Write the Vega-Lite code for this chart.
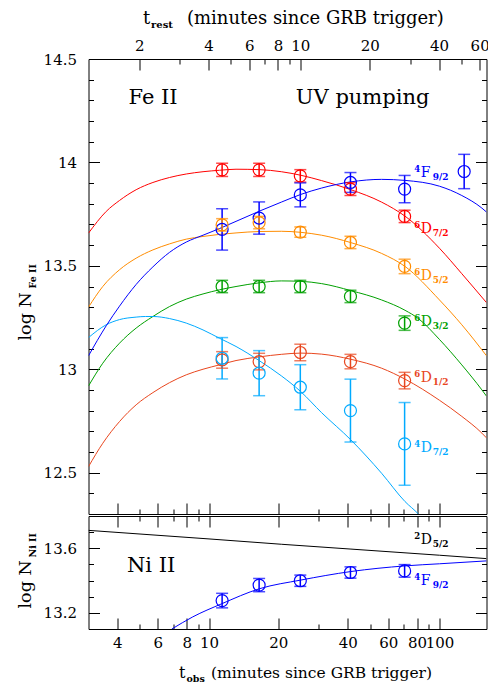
{
  "$schema": "https://vega.github.io/schema/vega-lite/v6.json",
  "padding": {"left": 15.5, "top": 8, "right": 0, "bottom": 0},
  "spacing": 0,
  "config": {
    "font": "DejaVu Serif",
    "view": {"stroke": "black", "strokeWidth": 1},
    "axis": {"domain": false, "grid": false, "labelFont": "DejaVu Serif", "labelFontSize": 15, "labelColor": "black", "tickColor": "black", "tickWidth": 1, "titleFont": "DejaVu Serif", "titleFontWeight": "normal", "titleColor": "black", "labelFlush": false, "labelOverlap": false, "labelBound": false}
  },
  "datasets": {
    "curves": [
      {"panel": "Fe", "series": "6D7/2", "t": 3.0, "v": 13.658},
      {"panel": "Fe", "series": "6D7/2", "t": 3.58, "v": 13.763},
      {"panel": "Fe", "series": "6D7/2", "t": 4.09, "v": 13.816},
      {"panel": "Fe", "series": "6D7/2", "t": 4.83, "v": 13.868},
      {"panel": "Fe", "series": "6D7/2", "t": 5.71, "v": 13.903},
      {"panel": "Fe", "series": "6D7/2", "t": 6.74, "v": 13.927},
      {"panel": "Fe", "series": "6D7/2", "t": 7.97, "v": 13.944},
      {"panel": "Fe", "series": "6D7/2", "t": 9.42, "v": 13.955},
      {"panel": "Fe", "series": "6D7/2", "t": 11.1, "v": 13.962},
      {"panel": "Fe", "series": "6D7/2", "t": 13.1, "v": 13.967},
      {"panel": "Fe", "series": "6D7/2", "t": 16.6, "v": 13.965},
      {"panel": "Fe", "series": "6D7/2", "t": 20.6, "v": 13.955},
      {"panel": "Fe", "series": "6D7/2", "t": 25.0, "v": 13.938},
      {"panel": "Fe", "series": "6D7/2", "t": 30.8, "v": 13.912},
      {"panel": "Fe", "series": "6D7/2", "t": 41.3, "v": 13.868},
      {"panel": "Fe", "series": "6D7/2", "t": 56.1, "v": 13.808},
      {"panel": "Fe", "series": "6D7/2", "t": 70.9, "v": 13.740},
      {"panel": "Fe", "series": "6D7/2", "t": 100, "v": 13.585},
      {"panel": "Fe", "series": "6D7/2", "t": 125, "v": 13.462},
      {"panel": "Fe", "series": "6D7/2", "t": 160, "v": 13.322},

      {"panel": "Fe", "series": "6D5/2", "t": 3.0, "v": 13.300},
      {"panel": "Fe", "series": "6D5/2", "t": 3.46, "v": 13.400},
      {"panel": "Fe", "series": "6D5/2", "t": 4.09, "v": 13.481},
      {"panel": "Fe", "series": "6D5/2", "t": 4.83, "v": 13.537},
      {"panel": "Fe", "series": "6D5/2", "t": 5.71, "v": 13.577},
      {"panel": "Fe", "series": "6D5/2", "t": 6.74, "v": 13.606},
      {"panel": "Fe", "series": "6D5/2", "t": 7.97, "v": 13.629},
      {"panel": "Fe", "series": "6D5/2", "t": 9.42, "v": 13.642},
      {"panel": "Fe", "series": "6D5/2", "t": 11.1, "v": 13.652},
      {"panel": "Fe", "series": "6D5/2", "t": 13.1, "v": 13.659},
      {"panel": "Fe", "series": "6D5/2", "t": 16.6, "v": 13.666},
      {"panel": "Fe", "series": "6D5/2", "t": 20.6, "v": 13.667},
      {"panel": "Fe", "series": "6D5/2", "t": 25.0, "v": 13.662},
      {"panel": "Fe", "series": "6D5/2", "t": 30.8, "v": 13.648},
      {"panel": "Fe", "series": "6D5/2", "t": 41.3, "v": 13.612},
      {"panel": "Fe", "series": "6D5/2", "t": 56.1, "v": 13.560},
      {"panel": "Fe", "series": "6D5/2", "t": 70.9, "v": 13.497},
      {"panel": "Fe", "series": "6D5/2", "t": 100, "v": 13.335},
      {"panel": "Fe", "series": "6D5/2", "t": 125, "v": 13.215},
      {"panel": "Fe", "series": "6D5/2", "t": 160, "v": 13.065},

      {"panel": "Fe", "series": "6D3/2", "t": 3.0, "v": 12.919},
      {"panel": "Fe", "series": "6D3/2", "t": 3.46, "v": 13.029},
      {"panel": "Fe", "series": "6D3/2", "t": 4.09, "v": 13.126},
      {"panel": "Fe", "series": "6D3/2", "t": 4.83, "v": 13.199},
      {"panel": "Fe", "series": "6D3/2", "t": 5.71, "v": 13.255},
      {"panel": "Fe", "series": "6D3/2", "t": 6.74, "v": 13.303},
      {"panel": "Fe", "series": "6D3/2", "t": 7.97, "v": 13.339},
      {"panel": "Fe", "series": "6D3/2", "t": 9.42, "v": 13.364},
      {"panel": "Fe", "series": "6D3/2", "t": 11.1, "v": 13.384},
      {"panel": "Fe", "series": "6D3/2", "t": 13.1, "v": 13.400},
      {"panel": "Fe", "series": "6D3/2", "t": 16.6, "v": 13.418},
      {"panel": "Fe", "series": "6D3/2", "t": 20.6, "v": 13.427},
      {"panel": "Fe", "series": "6D3/2", "t": 25.0, "v": 13.425},
      {"panel": "Fe", "series": "6D3/2", "t": 30.8, "v": 13.414},
      {"panel": "Fe", "series": "6D3/2", "t": 41.3, "v": 13.380},
      {"panel": "Fe", "series": "6D3/2", "t": 56.1, "v": 13.335},
      {"panel": "Fe", "series": "6D3/2", "t": 70.9, "v": 13.285},
      {"panel": "Fe", "series": "6D3/2", "t": 81.0, "v": 13.245},
      {"panel": "Fe", "series": "6D3/2", "t": 100, "v": 13.144},
      {"panel": "Fe", "series": "6D3/2", "t": 125, "v": 13.021},
      {"panel": "Fe", "series": "6D3/2", "t": 152.8, "v": 12.900},
      {"panel": "Fe", "series": "6D3/2", "t": 160, "v": 12.870},

      {"panel": "Fe", "series": "6D1/2", "t": 3.0, "v": 12.529},
      {"panel": "Fe", "series": "6D1/2", "t": 3.46, "v": 12.642},
      {"panel": "Fe", "series": "6D1/2", "t": 4.09, "v": 12.747},
      {"panel": "Fe", "series": "6D1/2", "t": 4.83, "v": 12.828},
      {"panel": "Fe", "series": "6D1/2", "t": 5.71, "v": 12.887},
      {"panel": "Fe", "series": "6D1/2", "t": 6.74, "v": 12.935},
      {"panel": "Fe", "series": "6D1/2", "t": 7.97, "v": 12.973},
      {"panel": "Fe", "series": "6D1/2", "t": 9.42, "v": 13.000},
      {"panel": "Fe", "series": "6D1/2", "t": 11.1, "v": 13.021},
      {"panel": "Fe", "series": "6D1/2", "t": 13.1, "v": 13.042},
      {"panel": "Fe", "series": "6D1/2", "t": 16.6, "v": 13.060},
      {"panel": "Fe", "series": "6D1/2", "t": 20.6, "v": 13.072},
      {"panel": "Fe", "series": "6D1/2", "t": 25.0, "v": 13.078},
      {"panel": "Fe", "series": "6D1/2", "t": 30.8, "v": 13.073},
      {"panel": "Fe", "series": "6D1/2", "t": 41.3, "v": 13.048},
      {"panel": "Fe", "series": "6D1/2", "t": 56.1, "v": 13.005},
      {"panel": "Fe", "series": "6D1/2", "t": 70.9, "v": 12.952},
      {"panel": "Fe", "series": "6D1/2", "t": 100, "v": 12.850},
      {"panel": "Fe", "series": "6D1/2", "t": 125, "v": 12.772},
      {"panel": "Fe", "series": "6D1/2", "t": 152.8, "v": 12.691},
      {"panel": "Fe", "series": "6D1/2", "t": 160, "v": 12.668},

      {"panel": "Fe", "series": "4D7/2", "t": 3.0, "v": 13.153},
      {"panel": "Fe", "series": "4D7/2", "t": 3.58, "v": 13.215},
      {"panel": "Fe", "series": "4D7/2", "t": 4.09, "v": 13.240},
      {"panel": "Fe", "series": "4D7/2", "t": 4.83, "v": 13.252},
      {"panel": "Fe", "series": "4D7/2", "t": 5.3, "v": 13.255},
      {"panel": "Fe", "series": "4D7/2", "t": 5.71, "v": 13.255},
      {"panel": "Fe", "series": "4D7/2", "t": 6.74, "v": 13.245},
      {"panel": "Fe", "series": "4D7/2", "t": 7.97, "v": 13.223},
      {"panel": "Fe", "series": "4D7/2", "t": 9.42, "v": 13.190},
      {"panel": "Fe", "series": "4D7/2", "t": 11.1, "v": 13.150},
      {"panel": "Fe", "series": "4D7/2", "t": 13.1, "v": 13.110},
      {"panel": "Fe", "series": "4D7/2", "t": 16.6, "v": 13.040},
      {"panel": "Fe", "series": "4D7/2", "t": 20.6, "v": 12.968},
      {"panel": "Fe", "series": "4D7/2", "t": 25.0, "v": 12.892},
      {"panel": "Fe", "series": "4D7/2", "t": 30.8, "v": 12.790},
      {"panel": "Fe", "series": "4D7/2", "t": 41.3, "v": 12.658},
      {"panel": "Fe", "series": "4D7/2", "t": 56.1, "v": 12.497},
      {"panel": "Fe", "series": "4D7/2", "t": 70.9, "v": 12.360},
      {"panel": "Fe", "series": "4D7/2", "t": 81.0, "v": 12.300},
      {"panel": "Fe", "series": "4D7/2", "t": 100, "v": 12.170},

      {"panel": "Fe", "series": "4F9/2", "t": 3.0, "v": 13.065},
      {"panel": "Fe", "series": "4F9/2", "t": 3.58, "v": 13.210},
      {"panel": "Fe", "series": "4F9/2", "t": 4.09, "v": 13.305},
      {"panel": "Fe", "series": "4F9/2", "t": 4.83, "v": 13.410},
      {"panel": "Fe", "series": "4F9/2", "t": 5.71, "v": 13.495},
      {"panel": "Fe", "series": "4F9/2", "t": 6.74, "v": 13.565},
      {"panel": "Fe", "series": "4F9/2", "t": 7.97, "v": 13.615},
      {"panel": "Fe", "series": "4F9/2", "t": 9.42, "v": 13.648},
      {"panel": "Fe", "series": "4F9/2", "t": 11.1, "v": 13.680},
      {"panel": "Fe", "series": "4F9/2", "t": 13.1, "v": 13.715},
      {"panel": "Fe", "series": "4F9/2", "t": 16.6, "v": 13.765},
      {"panel": "Fe", "series": "4F9/2", "t": 20.6, "v": 13.808},
      {"panel": "Fe", "series": "4F9/2", "t": 25.0, "v": 13.845},
      {"panel": "Fe", "series": "4F9/2", "t": 30.8, "v": 13.876},
      {"panel": "Fe", "series": "4F9/2", "t": 41.3, "v": 13.906},
      {"panel": "Fe", "series": "4F9/2", "t": 56.1, "v": 13.918},
      {"panel": "Fe", "series": "4F9/2", "t": 70.9, "v": 13.913},
      {"panel": "Fe", "series": "4F9/2", "t": 100, "v": 13.885},
      {"panel": "Fe", "series": "4F9/2", "t": 125, "v": 13.840},
      {"panel": "Fe", "series": "4F9/2", "t": 152.8, "v": 13.779},
      {"panel": "Fe", "series": "4F9/2", "t": 160, "v": 13.760},

      {"panel": "Ni", "series": "Ni 2D5/2", "t": 3.0, "v": 13.711},
      {"panel": "Ni", "series": "Ni 2D5/2", "t": 10, "v": 13.658},
      {"panel": "Ni", "series": "Ni 2D5/2", "t": 20.6, "v": 13.625},
      {"panel": "Ni", "series": "Ni 2D5/2", "t": 41.3, "v": 13.595},
      {"panel": "Ni", "series": "Ni 2D5/2", "t": 100, "v": 13.557},
      {"panel": "Ni", "series": "Ni 2D5/2", "t": 160, "v": 13.536},

      {"panel": "Ni", "series": "Ni 4F9/2", "t": 6.9, "v": 13.100},
      {"panel": "Ni", "series": "Ni 4F9/2", "t": 8.5, "v": 13.175},
      {"panel": "Ni", "series": "Ni 4F9/2", "t": 11.3, "v": 13.255},
      {"panel": "Ni", "series": "Ni 4F9/2", "t": 16.6, "v": 13.350},
      {"panel": "Ni", "series": "Ni 4F9/2", "t": 25.0, "v": 13.403},
      {"panel": "Ni", "series": "Ni 4F9/2", "t": 41.3, "v": 13.456},
      {"panel": "Ni", "series": "Ni 4F9/2", "t": 70.9, "v": 13.491},
      {"panel": "Ni", "series": "Ni 4F9/2", "t": 100, "v": 13.504},
      {"panel": "Ni", "series": "Ni 4F9/2", "t": 160, "v": 13.522}
    ],
    "obs": [
      {"panel": "Fe", "series": "6D7/2", "t": 11.4, "v": 13.964, "lo": 13.932, "hi": 13.996},
      {"panel": "Fe", "series": "6D7/2", "t": 16.5, "v": 13.964, "lo": 13.932, "hi": 13.996},
      {"panel": "Fe", "series": "6D7/2", "t": 24.9, "v": 13.935, "lo": 13.905, "hi": 13.965},
      {"panel": "Fe", "series": "6D7/2", "t": 41.1, "v": 13.871, "lo": 13.840, "hi": 13.902},
      {"panel": "Fe", "series": "6D7/2", "t": 70.6, "v": 13.739, "lo": 13.709, "hi": 13.769},
      {"panel": "Fe", "series": "4F9/2", "t": 11.4, "v": 13.676, "lo": 13.576, "hi": 13.776},
      {"panel": "Fe", "series": "4F9/2", "t": 16.5, "v": 13.731, "lo": 13.653, "hi": 13.809},
      {"panel": "Fe", "series": "4F9/2", "t": 24.9, "v": 13.843, "lo": 13.785, "hi": 13.901},
      {"panel": "Fe", "series": "4F9/2", "t": 41.1, "v": 13.903, "lo": 13.855, "hi": 13.951},
      {"panel": "Fe", "series": "4F9/2", "t": 70.6, "v": 13.871, "lo": 13.805, "hi": 13.937},
      {"panel": "Fe", "series": "4F9/2", "t": 128, "v": 13.956, "lo": 13.873, "hi": 14.039},
      {"panel": "Fe", "series": "6D5/2", "t": 11.4, "v": 13.698, "lo": 13.668, "hi": 13.728},
      {"panel": "Fe", "series": "6D5/2", "t": 16.5, "v": 13.709, "lo": 13.679, "hi": 13.739},
      {"panel": "Fe", "series": "6D5/2", "t": 24.9, "v": 13.663, "lo": 13.638, "hi": 13.688},
      {"panel": "Fe", "series": "6D5/2", "t": 41.1, "v": 13.613, "lo": 13.583, "hi": 13.643},
      {"panel": "Fe", "series": "6D5/2", "t": 70.6, "v": 13.497, "lo": 13.462, "hi": 13.532},
      {"panel": "Fe", "series": "6D3/2", "t": 11.4, "v": 13.400, "lo": 13.370, "hi": 13.430},
      {"panel": "Fe", "series": "6D3/2", "t": 16.5, "v": 13.400, "lo": 13.370, "hi": 13.430},
      {"panel": "Fe", "series": "6D3/2", "t": 24.9, "v": 13.400, "lo": 13.370, "hi": 13.430},
      {"panel": "Fe", "series": "6D3/2", "t": 41.1, "v": 13.352, "lo": 13.322, "hi": 13.382},
      {"panel": "Fe", "series": "6D3/2", "t": 70.6, "v": 13.223, "lo": 13.188, "hi": 13.258},
      {"panel": "Fe", "series": "6D1/2", "t": 11.4, "v": 13.045, "lo": 13.005, "hi": 13.085},
      {"panel": "Fe", "series": "6D1/2", "t": 16.5, "v": 13.037, "lo": 12.997, "hi": 13.077},
      {"panel": "Fe", "series": "6D1/2", "t": 24.9, "v": 13.081, "lo": 13.041, "hi": 13.121},
      {"panel": "Fe", "series": "6D1/2", "t": 41.1, "v": 13.037, "lo": 13.002, "hi": 13.072},
      {"panel": "Fe", "series": "6D1/2", "t": 70.6, "v": 12.945, "lo": 12.905, "hi": 12.985},
      {"panel": "Fe", "series": "4D7/2", "t": 11.4, "v": 13.053, "lo": 12.953, "hi": 13.153},
      {"panel": "Fe", "series": "4D7/2", "t": 16.5, "v": 12.981, "lo": 12.872, "hi": 13.090},
      {"panel": "Fe", "series": "4D7/2", "t": 24.9, "v": 12.913, "lo": 12.804, "hi": 13.022},
      {"panel": "Fe", "series": "4D7/2", "t": 41.1, "v": 12.800, "lo": 12.648, "hi": 12.952},
      {"panel": "Fe", "series": "4D7/2", "t": 70.6, "v": 12.639, "lo": 12.439, "hi": 12.839},
      {"panel": "Ni", "series": "Ni 4F9/2", "t": 11.4, "v": 13.276, "lo": 13.231, "hi": 13.321},
      {"panel": "Ni", "series": "Ni 4F9/2", "t": 16.5, "v": 13.372, "lo": 13.331, "hi": 13.413},
      {"panel": "Ni", "series": "Ni 4F9/2", "t": 24.9, "v": 13.399, "lo": 13.364, "hi": 13.434},
      {"panel": "Ni", "series": "Ni 4F9/2", "t": 41.1, "v": 13.450, "lo": 13.415, "hi": 13.485},
      {"panel": "Ni", "series": "Ni 4F9/2", "t": 70.6, "v": 13.460, "lo": 13.421, "hi": 13.499}
    ],
    "labels": [
      {"panel": "Fe", "series": "4F9/2", "t": 82.9, "v": 13.950, "sup": "4", "main": "F", "sub": "9/2"},
      {"panel": "Fe", "series": "6D7/2", "t": 82.9, "v": 13.679, "sup": "6", "main": "D", "sub": "7/2"},
      {"panel": "Fe", "series": "6D5/2", "t": 82.9, "v": 13.449, "sup": "6", "main": "D", "sub": "5/2"},
      {"panel": "Fe", "series": "6D3/2", "t": 82.9, "v": 13.227, "sup": "6", "main": "D", "sub": "3/2"},
      {"panel": "Fe", "series": "6D1/2", "t": 82.9, "v": 12.956, "sup": "6", "main": "D", "sub": "1/2"},
      {"panel": "Fe", "series": "4D7/2", "t": 82.9, "v": 12.617, "sup": "4", "main": "D", "sub": "7/2"},
      {"panel": "Ni", "series": "Ni 2D5/2", "t": 82.9, "v": 13.651, "sup": "2", "main": "D", "sub": "5/2"},
      {"panel": "Ni", "series": "Ni 4F9/2", "t": 82.9, "v": 13.399, "sup": "4", "main": "F", "sub": "9/2"}
    ],
    "notes": [
      {"panel": "Fe", "t": 5.72, "v": 14.313, "text": "Fe II"},
      {"panel": "Fe", "t": 46.4, "v": 14.313, "text": "UV pumping"},
      {"panel": "Ni", "t": 5.61, "v": 13.491, "text": "Ni II"}
    ]
  },
  "vconcat": [
    {
      "width": 398,
      "height": 455,
      "resolve": {"axis": {"x": "independent", "y": "independent"}},
      "layer": [
        {
          "data": {"name": "curves"},
          "transform": [{"filter": "datum.panel == 'Fe'"}],
          "mark": {"type": "line", "clip": true, "strokeWidth": 1, "interpolate": "monotone"},
          "encoding": {
            "x": {"field": "t", "type": "quantitative", "scale": {"type": "log", "domain": [3, 160], "nice": false},
                  "axis": {"orient": "bottom", "values": [4, 6, 8, 10, 20, 40, 60, 80, 100], "labels": false, "tickSize": -11, "title": null}},
            "y": {"field": "v", "type": "quantitative", "scale": {"domain": [12.3, 14.5], "nice": false, "zero": false},
                  "axis": {"orient": "left", "values": [12.5, 13, 13.5, 14, 14.5], "format": "~g", "tickSize": -11, "labelPadding": 23,
                           "title": "log N", "titleFontSize": 17.5, "titleAngle": 270, "titleAlign": "left", "titleBaseline": "alphabetic", "titleX": -58, "titleY": 281}},
            "color": {"field": "series", "type": "nominal", "legend": null,
                      "scale": {"domain": ["4F9/2", "6D7/2", "6D5/2", "6D3/2", "6D1/2", "4D7/2", "Ni 2D5/2", "Ni 4F9/2"],
                                "range": ["#0000ff", "#ff0000", "#ff8c00", "#00a000", "#e8461e", "#00aaff", "#000000", "#0000ff"]}}
          }
        },
        {
          "data": {"name": "obs"},
          "transform": [{"filter": "datum.panel == 'Fe'"}],
          "mark": {"type": "rule", "strokeWidth": 1.5},
          "encoding": {
            "x": {"field": "t", "type": "quantitative",
                  "axis": {"orient": "top", "values": [4.98, 9.96, 14.94, 19.92, 24.9, 49.8, 99.6, 149.4], "labelExpr": "format(datum.value / 2.49, '.0f')", "tickSize": -11, "labelPadding": 17,
                           "title": "t", "titleFontSize": 18, "titleAlign": "left", "titleBaseline": "alphabetic", "titleX": 54, "titleY": -36}},
            "y": {"field": "lo", "type": "quantitative",
                  "axis": {"orient": "left", "values": [12.4, 12.6, 12.7, 12.8, 12.9, 13.1, 13.2, 13.3, 13.4, 13.6, 13.7, 13.8, 13.9, 14.1, 14.2, 14.3, 14.4], "labels": false, "tickSize": -5,
                           "title": "Fe II", "titleFontSize": 9.5, "titleFontWeight": "bold", "titleAngle": 270, "titleAlign": "left", "titleBaseline": "alphabetic", "titleX": -53, "titleY": 229}},
            "y2": {"field": "hi"},
            "color": {"field": "series", "type": "nominal", "legend": null}
          }
        },
        {
          "data": {"name": "obs"},
          "transform": [{"filter": "datum.panel == 'Fe'"}],
          "mark": {"type": "tick", "orient": "horizontal", "size": 12, "thickness": 1.5},
          "encoding": {
            "x": {"field": "t", "type": "quantitative",
                  "axis": {"orient": "top", "values": [7.47, 12.45, 17.43, 22.41, 74.7, 124.5], "labels": false, "tickSize": -5,
                           "title": "rest", "titleFontSize": 10, "titleFontWeight": "bold", "titleAlign": "left", "titleBaseline": "alphabetic", "titleX": 62, "titleY": -31.5}},
            "y": {"field": "lo", "type": "quantitative",
                  "axis": {"orient": "right", "values": [12.5, 13, 13.5, 14, 14.5], "labels": false, "tickSize": -11, "title": null}},
            "color": {"field": "series", "type": "nominal", "legend": null}
          }
        },
        {
          "data": {"name": "obs"},
          "transform": [{"filter": "datum.panel == 'Fe'"}],
          "mark": {"type": "tick", "orient": "horizontal", "size": 12, "thickness": 1.5},
          "encoding": {
            "x": {"field": "t", "type": "quantitative",
                  "axis": {"orient": "bottom", "values": [5, 7, 9, 30, 50, 70, 90], "labels": false, "tickSize": -5, "title": null}},
            "y": {"field": "hi", "type": "quantitative",
                  "axis": {"orient": "right", "values": [12.4, 12.6, 12.7, 12.8, 12.9, 13.1, 13.2, 13.3, 13.4, 13.6, 13.7, 13.8, 13.9, 14.1, 14.2, 14.3, 14.4], "labels": false, "tickSize": -5, "title": null}},
            "color": {"field": "series", "type": "nominal", "legend": null}
          }
        },
        {
          "data": {"name": "obs"},
          "transform": [{"filter": "datum.panel == 'Fe'"}],
          "mark": {"type": "point", "shape": "circle", "filled": false, "size": 144, "strokeWidth": 1.2, "opacity": 1},
          "encoding": {
            "x": {"field": "t", "type": "quantitative",
                  "axis": {"orient": "top", "ticks": false, "labels": false,
                           "title": "(minutes since GRB trigger)", "titleFontSize": 18, "titleAlign": "left", "titleBaseline": "alphabetic", "titleX": 98, "titleY": -36}},
            "y": {"field": "v", "type": "quantitative", "axis": null},
            "color": {"field": "series", "type": "nominal", "legend": null}
          }
        },
        {
          "data": {"name": "labels"},
          "transform": [{"filter": "datum.panel == 'Fe'"}],
          "mark": {"type": "text", "align": "left", "baseline": "middle", "fontSize": 14},
          "encoding": {
            "x": {"field": "t", "type": "quantitative", "axis": null},
            "y": {"field": "v", "type": "quantitative", "axis": null},
            "text": {"field": "main"},
            "color": {"field": "series", "type": "nominal", "legend": null}
          }
        },
        {
          "data": {"name": "labels"},
          "transform": [{"filter": "datum.panel == 'Fe'"}],
          "mark": {"type": "text", "align": "right", "baseline": "middle", "fontSize": 8.5, "fontWeight": "bold", "dx": -0.5, "dy": -4},
          "encoding": {
            "x": {"field": "t", "type": "quantitative", "axis": null},
            "y": {"field": "v", "type": "quantitative", "axis": null},
            "text": {"field": "sup"},
            "color": {"field": "series", "type": "nominal", "legend": null}
          }
        },
        {
          "data": {"name": "labels"},
          "transform": [{"filter": "datum.panel == 'Fe'"}],
          "mark": {"type": "text", "align": "left", "baseline": "middle", "fontSize": 9, "fontWeight": "bold", "dx": 12, "dy": 4},
          "encoding": {
            "x": {"field": "t", "type": "quantitative", "axis": null},
            "y": {"field": "v", "type": "quantitative", "axis": null},
            "text": {"field": "sub"},
            "color": {"field": "series", "type": "nominal", "legend": null}
          }
        },
        {
          "data": {"name": "notes"},
          "transform": [{"filter": "datum.panel == 'Fe'"}],
          "mark": {"type": "text", "align": "center", "baseline": "middle", "fontSize": 21, "color": "black"},
          "encoding": {
            "x": {"field": "t", "type": "quantitative", "axis": null},
            "y": {"field": "v", "type": "quantitative", "axis": null},
            "text": {"field": "text"}
          }
        }
      ]
    },
    {
      "width": 398,
      "height": 113,
      "resolve": {"axis": {"x": "independent", "y": "independent"}},
      "layer": [
        {
          "data": {"name": "curves"},
          "transform": [{"filter": "datum.panel == 'Ni'"}],
          "mark": {"type": "line", "clip": true, "strokeWidth": 1, "interpolate": "monotone"},
          "encoding": {
            "x": {"field": "t", "type": "quantitative", "scale": {"type": "log", "domain": [3, 160], "nice": false},
                  "axis": {"orient": "bottom", "values": [4, 6, 8, 10, 20, 40, 60, 80, 100], "tickSize": -11, "labelPadding": 17,
                           "title": "t", "titleFontSize": 16, "titleAlign": "left", "titleBaseline": "alphabetic", "titleX": 90, "titleY": 48}},
            "y": {"field": "v", "type": "quantitative", "scale": {"domain": [13.1, 13.8], "nice": false, "zero": false},
                  "axis": {"orient": "left", "values": [13.2, 13.6], "format": "~g", "tickSize": -11, "labelPadding": 23,
                           "title": "log N", "titleFontSize": 17.5, "titleAngle": 270, "titleAlign": "left", "titleBaseline": "alphabetic", "titleX": -58, "titleY": 92}},
            "color": {"field": "series", "type": "nominal", "legend": null,
                      "scale": {"domain": ["4F9/2", "6D7/2", "6D5/2", "6D3/2", "6D1/2", "4D7/2", "Ni 2D5/2", "Ni 4F9/2"],
                                "range": ["#0000ff", "#ff0000", "#ff8c00", "#00a000", "#e8461e", "#00aaff", "#000000", "#0000ff"]}}
          }
        },
        {
          "data": {"name": "obs"},
          "transform": [{"filter": "datum.panel == 'Ni'"}],
          "mark": {"type": "rule", "strokeWidth": 1.5},
          "encoding": {
            "x": {"field": "t", "type": "quantitative",
                  "axis": {"orient": "top", "values": [4, 6, 8, 10, 20, 40, 60, 80, 100], "labels": false, "tickSize": -11, "title": null}},
            "y": {"field": "lo", "type": "quantitative",
                  "axis": {"orient": "left", "values": [13.3, 13.4, 13.5, 13.7], "labels": false, "tickSize": -5,
                           "title": "Ni II", "titleFontSize": 9.5, "titleFontWeight": "bold", "titleAngle": 270, "titleAlign": "left", "titleBaseline": "alphabetic", "titleX": -53, "titleY": 41}},
            "y2": {"field": "hi"},
            "color": {"field": "series", "type": "nominal", "legend": null}
          }
        },
        {
          "data": {"name": "obs"},
          "transform": [{"filter": "datum.panel == 'Ni'"}],
          "mark": {"type": "tick", "orient": "horizontal", "size": 12, "thickness": 1.5},
          "encoding": {
            "x": {"field": "t", "type": "quantitative",
                  "axis": {"orient": "top", "values": [5, 7, 9, 30, 50, 70, 90], "labels": false, "tickSize": -5, "title": null}},
            "y": {"field": "lo", "type": "quantitative",
                  "axis": {"orient": "right", "values": [13.2, 13.6], "labels": false, "tickSize": -11, "title": null}},
            "color": {"field": "series", "type": "nominal", "legend": null}
          }
        },
        {
          "data": {"name": "obs"},
          "transform": [{"filter": "datum.panel == 'Ni'"}],
          "mark": {"type": "tick", "orient": "horizontal", "size": 12, "thickness": 1.5},
          "encoding": {
            "x": {"field": "t", "type": "quantitative",
                  "axis": {"orient": "bottom", "values": [5, 7, 9, 30, 50, 70, 90], "labels": false, "tickSize": -5,
                           "title": "obs", "titleFontSize": 9.5, "titleFontWeight": "bold", "titleAlign": "left", "titleBaseline": "alphabetic", "titleX": 97.5, "titleY": 52}},
            "y": {"field": "hi", "type": "quantitative",
                  "axis": {"orient": "right", "values": [13.3, 13.4, 13.5, 13.7], "labels": false, "tickSize": -5, "title": null}},
            "color": {"field": "series", "type": "nominal", "legend": null}
          }
        },
        {
          "data": {"name": "obs"},
          "transform": [{"filter": "datum.panel == 'Ni'"}],
          "mark": {"type": "point", "shape": "circle", "filled": false, "size": 144, "strokeWidth": 1.2, "opacity": 1},
          "encoding": {
            "x": {"field": "t", "type": "quantitative",
                  "axis": {"orient": "bottom", "ticks": false, "labels": false,
                           "title": "(minutes since GRB trigger)", "titleFontSize": 15.5, "titleAlign": "left", "titleBaseline": "alphabetic", "titleX": 122, "titleY": 48}},
            "y": {"field": "v", "type": "quantitative", "axis": null},
            "color": {"field": "series", "type": "nominal", "legend": null}
          }
        },
        {
          "data": {"name": "labels"},
          "transform": [{"filter": "datum.panel == 'Ni'"}],
          "mark": {"type": "text", "align": "left", "baseline": "middle", "fontSize": 14},
          "encoding": {
            "x": {"field": "t", "type": "quantitative", "axis": null},
            "y": {"field": "v", "type": "quantitative", "axis": null},
            "text": {"field": "main"},
            "color": {"field": "series", "type": "nominal", "legend": null}
          }
        },
        {
          "data": {"name": "labels"},
          "transform": [{"filter": "datum.panel == 'Ni'"}],
          "mark": {"type": "text", "align": "right", "baseline": "middle", "fontSize": 8.5, "fontWeight": "bold", "dx": -0.5, "dy": -4},
          "encoding": {
            "x": {"field": "t", "type": "quantitative", "axis": null},
            "y": {"field": "v", "type": "quantitative", "axis": null},
            "text": {"field": "sup"},
            "color": {"field": "series", "type": "nominal", "legend": null}
          }
        },
        {
          "data": {"name": "labels"},
          "transform": [{"filter": "datum.panel == 'Ni'"}],
          "mark": {"type": "text", "align": "left", "baseline": "middle", "fontSize": 9, "fontWeight": "bold", "dx": 12, "dy": 4},
          "encoding": {
            "x": {"field": "t", "type": "quantitative", "axis": null},
            "y": {"field": "v", "type": "quantitative", "axis": null},
            "text": {"field": "sub"},
            "color": {"field": "series", "type": "nominal", "legend": null}
          }
        },
        {
          "data": {"name": "notes"},
          "transform": [{"filter": "datum.panel == 'Ni'"}],
          "mark": {"type": "text", "align": "center", "baseline": "middle", "fontSize": 21, "color": "black"},
          "encoding": {
            "x": {"field": "t", "type": "quantitative", "axis": null},
            "y": {"field": "v", "type": "quantitative", "axis": null},
            "text": {"field": "text"}
          }
        }
      ]
    }
  ]
}
